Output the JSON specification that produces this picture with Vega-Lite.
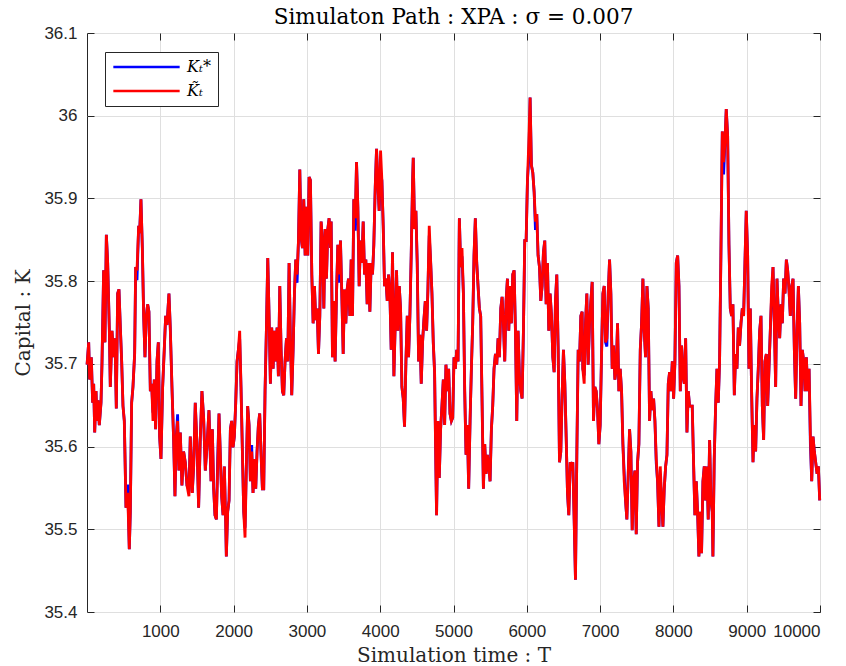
{
"$schema": "https://vega.github.io/schema/vega-lite/v6.json",
"width": 733, "height": 579,
"autosize": "none",
"padding": {"left": 87, "top": 33, "right": 26, "bottom": 54},
"background": "white",
"title": {"text": "Simulaton Path : XPA : σ = 0.007", "font": "DejaVu Serif", "fontSize": 21.5, "fontWeight": "normal", "color": "#000000", "offset": -4, "frame": "group", "anchor": "middle"},
"data": {"values": [
{"T":1,"Ks":35.699,"Kt":35.699},{"T":23,"Ks":35.726,"Kt":35.726},{"T":36,"Ks":35.681,"Kt":35.681},{"T":59,"Ks":35.708,"Kt":35.708},{"T":77,"Ks":35.653,"Kt":35.653},{"T":91,"Ks":35.676,"Kt":35.676},{"T":105,"Ks":35.617,"Kt":35.617},{"T":123,"Ks":35.667,"Kt":35.667},{"T":136,"Ks":35.631,"Kt":35.631},{"T":150,"Ks":35.656,"Kt":35.656},{"T":168,"Ks":35.626,"Kt":35.626},{"T":191,"Ks":35.653,"Kt":35.653},{"T":205,"Ks":35.703,"Kt":35.703},{"T":227,"Ks":35.813,"Kt":35.813},{"T":245,"Ks":35.726,"Kt":35.726},{"T":264,"Ks":35.856,"Kt":35.856},{"T":282,"Ks":35.822,"Kt":35.822},{"T":305,"Ks":35.74,"Kt":35.74},{"T":318,"Ks":35.672,"Kt":35.672},{"T":341,"Ks":35.74,"Kt":35.74},{"T":364,"Ks":35.708,"Kt":35.708},{"T":382,"Ks":35.731,"Kt":35.731},{"T":400,"Ks":35.646,"Kt":35.646},{"T":418,"Ks":35.785,"Kt":35.785},{"T":436,"Ks":35.79,"Kt":35.79},{"T":455,"Ks":35.744,"Kt":35.744},{"T":473,"Ks":35.703,"Kt":35.703},{"T":491,"Ks":35.649,"Kt":35.649},{"T":509,"Ks":35.631,"Kt":35.631},{"T":532,"Ks":35.526,"Kt":35.526},{"T":555,"Ks":35.554,"Kt":35.544},{"T":577,"Ks":35.476,"Kt":35.476},{"T":591,"Ks":35.521,"Kt":35.521},{"T":609,"Ks":35.653,"Kt":35.653},{"T":627,"Ks":35.672,"Kt":35.672},{"T":650,"Ks":35.712,"Kt":35.712},{"T":664,"Ks":35.817,"Kt":35.817},{"T":682,"Ks":35.801,"Kt":35.813},{"T":705,"Ks":35.867,"Kt":35.867},{"T":718,"Ks":35.858,"Kt":35.858},{"T":736,"Ks":35.899,"Kt":35.899},{"T":755,"Ks":35.84,"Kt":35.84},{"T":773,"Ks":35.758,"Kt":35.758},{"T":791,"Ks":35.708,"Kt":35.708},{"T":809,"Ks":35.758,"Kt":35.758},{"T":827,"Ks":35.772,"Kt":35.772},{"T":845,"Ks":35.763,"Kt":35.763},{"T":864,"Ks":35.667,"Kt":35.667},{"T":882,"Ks":35.676,"Kt":35.676},{"T":900,"Ks":35.641,"Kt":35.631},{"T":918,"Ks":35.681,"Kt":35.681},{"T":936,"Ks":35.621,"Kt":35.621},{"T":955,"Ks":35.703,"Kt":35.703},{"T":973,"Ks":35.726,"Kt":35.726},{"T":991,"Ks":35.612,"Kt":35.612},{"T":1009,"Ks":35.585,"Kt":35.585},{"T":1032,"Ks":35.672,"Kt":35.672},{"T":1054,"Ks":35.717,"Kt":35.717},{"T":1073,"Ks":35.758,"Kt":35.758},{"T":1091,"Ks":35.747,"Kt":35.747},{"T":1118,"Ks":35.785,"Kt":35.785},{"T":1136,"Ks":35.744,"Kt":35.744},{"T":1159,"Ks":35.672,"Kt":35.672},{"T":1182,"Ks":35.608,"Kt":35.608},{"T":1200,"Ks":35.54,"Kt":35.54},{"T":1218,"Ks":35.612,"Kt":35.612},{"T":1236,"Ks":35.639,"Kt":35.631},{"T":1254,"Ks":35.571,"Kt":35.571},{"T":1273,"Ks":35.617,"Kt":35.617},{"T":1295,"Ks":35.553,"Kt":35.553},{"T":1318,"Ks":35.594,"Kt":35.594},{"T":1341,"Ks":35.581,"Kt":35.581},{"T":1364,"Ks":35.553,"Kt":35.553},{"T":1391,"Ks":35.55,"Kt":35.54},{"T":1409,"Ks":35.612,"Kt":35.612},{"T":1436,"Ks":35.544,"Kt":35.544},{"T":1455,"Ks":35.576,"Kt":35.576},{"T":1477,"Ks":35.653,"Kt":35.653},{"T":1500,"Ks":35.603,"Kt":35.603},{"T":1523,"Ks":35.526,"Kt":35.526},{"T":1545,"Ks":35.608,"Kt":35.608},{"T":1568,"Ks":35.667,"Kt":35.667},{"T":1591,"Ks":35.635,"Kt":35.635},{"T":1614,"Ks":35.571,"Kt":35.571},{"T":1636,"Ks":35.599,"Kt":35.599},{"T":1664,"Ks":35.644,"Kt":35.644},
{"T":1692,"Ks":35.558,"Kt":35.558},{"T":1710,"Ks":35.621,"Kt":35.621},{"T":1728,"Ks":35.549,"Kt":35.549},{"T":1746,"Ks":35.517,"Kt":35.517},{"T":1765,"Ks":35.512,"Kt":35.512},{"T":1783,"Ks":35.586,"Kt":35.576},{"T":1801,"Ks":35.64,"Kt":35.64},{"T":1819,"Ks":35.59,"Kt":35.59},{"T":1837,"Ks":35.54,"Kt":35.54},{"T":1856,"Ks":35.517,"Kt":35.517},{"T":1874,"Ks":35.576,"Kt":35.576},{"T":1892,"Ks":35.508,"Kt":35.508},{"T":1901,"Ks":35.467,"Kt":35.467},{"T":1919,"Ks":35.521,"Kt":35.521},{"T":1938,"Ks":35.535,"Kt":35.535},{"T":1956,"Ks":35.621,"Kt":35.621},{"T":1974,"Ks":35.631,"Kt":35.631},{"T":1992,"Ks":35.599,"Kt":35.599},{"T":2010,"Ks":35.612,"Kt":35.612},{"T":2029,"Ks":35.653,"Kt":35.653},{"T":2047,"Ks":35.703,"Kt":35.703},{"T":2065,"Ks":35.717,"Kt":35.717},{"T":2083,"Ks":35.73,"Kt":35.74},{"T":2101,"Ks":35.672,"Kt":35.672},{"T":2120,"Ks":35.594,"Kt":35.594},{"T":2138,"Ks":35.521,"Kt":35.521},{"T":2156,"Ks":35.502,"Kt":35.49},{"T":2174,"Ks":35.576,"Kt":35.576},{"T":2192,"Ks":35.649,"Kt":35.649},{"T":2211,"Ks":35.626,"Kt":35.626},{"T":2229,"Ks":35.558,"Kt":35.558},{"T":2247,"Ks":35.602,"Kt":35.594},{"T":2265,"Ks":35.544,"Kt":35.544},{"T":2284,"Ks":35.585,"Kt":35.585},{"T":2302,"Ks":35.549,"Kt":35.549},{"T":2320,"Ks":35.594,"Kt":35.594},{"T":2338,"Ks":35.626,"Kt":35.626},{"T":2356,"Ks":35.64,"Kt":35.64},{"T":2375,"Ks":35.59,"Kt":35.59},{"T":2393,"Ks":35.549,"Kt":35.549},{"T":2411,"Ks":35.549,"Kt":35.549},{"T":2429,"Ks":35.667,"Kt":35.667},{"T":2447,"Ks":35.74,"Kt":35.74},{"T":2466,"Ks":35.828,"Kt":35.828},{"T":2484,"Ks":35.758,"Kt":35.758},{"T":2502,"Ks":35.676,"Kt":35.676},{"T":2520,"Ks":35.744,"Kt":35.744},{"T":2539,"Ks":35.694,"Kt":35.694},{"T":2557,"Ks":35.74,"Kt":35.74},{"T":2575,"Ks":35.703,"Kt":35.703},{"T":2593,"Ks":35.744,"Kt":35.744},{"T":2611,"Ks":35.685,"Kt":35.685},{"T":2630,"Ks":35.794,"Kt":35.794},{"T":2648,"Ks":35.717,"Kt":35.717},{"T":2666,"Ks":35.667,"Kt":35.667},{"T":2684,"Ks":35.662,"Kt":35.662},{"T":2702,"Ks":35.703,"Kt":35.703},{"T":2721,"Ks":35.731,"Kt":35.731},{"T":2739,"Ks":35.703,"Kt":35.703},{"T":2757,"Ks":35.822,"Kt":35.822},{"T":2775,"Ks":35.731,"Kt":35.731},{"T":2793,"Ks":35.662,"Kt":35.662},{"T":2812,"Ks":35.717,"Kt":35.717},{"T":2830,"Ks":35.785,"Kt":35.785},{"T":2848,"Ks":35.826,"Kt":35.826},{"T":2866,"Ks":35.798,"Kt":35.808},{"T":2885,"Ks":35.849,"Kt":35.849},{"T":2903,"Ks":35.935,"Kt":35.935},{"T":2921,"Ks":35.853,"Kt":35.853},{"T":2939,"Ks":35.84,"Kt":35.84},{"T":2957,"Ks":35.899,"Kt":35.899},{"T":2976,"Ks":35.831,"Kt":35.831},{"T":2994,"Ks":35.89,"Kt":35.89},{"T":3012,"Ks":35.831,"Kt":35.831},{"T":3030,"Ks":35.926,"Kt":35.926},{"T":3048,"Ks":35.922,"Kt":35.922},{"T":3067,"Ks":35.808,"Kt":35.808},{"T":3085,"Ks":35.749,"Kt":35.749},{"T":3103,"Ks":35.794,"Kt":35.794},{"T":3121,"Ks":35.753,"Kt":35.753},{"T":3140,"Ks":35.767,"Kt":35.767},{"T":3158,"Ks":35.712,"Kt":35.712},{"T":3176,"Ks":35.758,"Kt":35.758},{"T":3194,"Ks":35.872,"Kt":35.872},{"T":3212,"Ks":35.849,"Kt":35.849},{"T":3231,"Ks":35.767,"Kt":35.767},{"T":3249,"Ks":35.863,"Kt":35.863},{"T":3267,"Ks":35.803,"Kt":35.803},{"T":3285,"Ks":35.863,"Kt":35.863},{"T":3303,"Ks":35.876,"Kt":35.876},{"T":3322,"Ks":35.84,"Kt":35.84},
{"T":3331,"Ks":35.872,"Kt":35.872},{"T":3349,"Ks":35.708,"Kt":35.708},{"T":3367,"Ks":35.776,"Kt":35.776},{"T":3385,"Ks":35.703,"Kt":35.703},{"T":3404,"Ks":35.785,"Kt":35.785},{"T":3422,"Ks":35.844,"Kt":35.844},{"T":3440,"Ks":35.798,"Kt":35.808},{"T":3458,"Ks":35.849,"Kt":35.849},{"T":3476,"Ks":35.785,"Kt":35.785},{"T":3495,"Ks":35.712,"Kt":35.712},{"T":3513,"Ks":35.79,"Kt":35.79},{"T":3531,"Ks":35.749,"Kt":35.749},{"T":3549,"Ks":35.79,"Kt":35.79},{"T":3567,"Ks":35.803,"Kt":35.803},{"T":3586,"Ks":35.758,"Kt":35.758},{"T":3604,"Ks":35.826,"Kt":35.826},{"T":3622,"Ks":35.758,"Kt":35.758},{"T":3640,"Ks":35.899,"Kt":35.899},{"T":3659,"Ks":35.861,"Kt":35.876},{"T":3677,"Ks":35.944,"Kt":35.944},{"T":3695,"Ks":35.89,"Kt":35.89},{"T":3713,"Ks":35.794,"Kt":35.794},{"T":3731,"Ks":35.849,"Kt":35.849},{"T":3750,"Ks":35.822,"Kt":35.822},{"T":3768,"Ks":35.872,"Kt":35.872},{"T":3786,"Ks":35.808,"Kt":35.808},{"T":3804,"Ks":35.826,"Kt":35.826},{"T":3822,"Ks":35.772,"Kt":35.772},{"T":3841,"Ks":35.822,"Kt":35.822},{"T":3859,"Ks":35.763,"Kt":35.763},{"T":3877,"Ks":35.822,"Kt":35.822},{"T":3895,"Ks":35.808,"Kt":35.808},{"T":3913,"Ks":35.844,"Kt":35.844},{"T":3932,"Ks":35.913,"Kt":35.913},{"T":3950,"Ks":35.96,"Kt":35.96},{"T":3968,"Ks":35.917,"Kt":35.917},{"T":3986,"Ks":35.885,"Kt":35.885},{"T":4005,"Ks":35.928,"Kt":35.958},{"T":4023,"Ks":35.922,"Kt":35.922},{"T":4041,"Ks":35.867,"Kt":35.867},{"T":4059,"Ks":35.794,"Kt":35.794},{"T":4077,"Ks":35.803,"Kt":35.803},{"T":4096,"Ks":35.776,"Kt":35.776},{"T":4114,"Ks":35.808,"Kt":35.808},{"T":4132,"Ks":35.785,"Kt":35.785},{"T":4150,"Ks":35.717,"Kt":35.717},{"T":4168,"Ks":35.835,"Kt":35.835},{"T":4187,"Ks":35.685,"Kt":35.685},{"T":4205,"Ks":35.749,"Kt":35.749},{"T":4223,"Ks":35.813,"Kt":35.813},{"T":4241,"Ks":35.74,"Kt":35.74},{"T":4260,"Ks":35.794,"Kt":35.794},{"T":4278,"Ks":35.767,"Kt":35.767},{"T":4296,"Ks":35.672,"Kt":35.672},{"T":4314,"Ks":35.658,"Kt":35.658},{"T":4332,"Ks":35.624,"Kt":35.624},{"T":4351,"Ks":35.703,"Kt":35.703},{"T":4369,"Ks":35.758,"Kt":35.758},{"T":4387,"Ks":35.708,"Kt":35.708},{"T":4405,"Ks":35.758,"Kt":35.758},{"T":4423,"Ks":35.831,"Kt":35.831},{"T":4442,"Ks":35.922,"Kt":35.922},{"T":4451,"Ks":35.949,"Kt":35.949},{"T":4469,"Ks":35.863,"Kt":35.863},{"T":4487,"Ks":35.885,"Kt":35.885},{"T":4505,"Ks":35.822,"Kt":35.822},{"T":4524,"Ks":35.703,"Kt":35.703},{"T":4542,"Ks":35.735,"Kt":35.735},{"T":4560,"Ks":35.676,"Kt":35.676},{"T":4578,"Ks":35.726,"Kt":35.726},{"T":4596,"Ks":35.753,"Kt":35.753},{"T":4615,"Ks":35.776,"Kt":35.776},{"T":4633,"Ks":35.74,"Kt":35.74},{"T":4651,"Ks":35.79,"Kt":35.79},{"T":4669,"Ks":35.855,"Kt":35.867},{"T":4687,"Ks":35.826,"Kt":35.826},{"T":4706,"Ks":35.785,"Kt":35.785},{"T":4724,"Ks":35.726,"Kt":35.726},{"T":4742,"Ks":35.69,"Kt":35.69},{"T":4760,"Ks":35.571,"Kt":35.571},{"T":4769,"Ks":35.517,"Kt":35.517},{"T":4788,"Ks":35.631,"Kt":35.631},{"T":4806,"Ks":35.562,"Kt":35.562},{"T":4824,"Ks":35.621,"Kt":35.621},{"T":4842,"Ks":35.649,"Kt":35.649},{"T":4861,"Ks":35.681,"Kt":35.681},{"T":4879,"Ks":35.626,"Kt":35.626},{"T":4897,"Ks":35.699,"Kt":35.699},{"T":4915,"Ks":35.667,"Kt":35.667},{"T":4934,"Ks":35.694,"Kt":35.694},{"T":4952,"Ks":35.64,"Kt":35.64},
{"T":4971,"Ks":35.631,"Kt":35.631},{"T":4989,"Ks":35.635,"Kt":35.635},{"T":5007,"Ks":35.708,"Kt":35.708},{"T":5025,"Ks":35.694,"Kt":35.694},{"T":5044,"Ks":35.717,"Kt":35.717},{"T":5062,"Ks":35.703,"Kt":35.703},{"T":5080,"Ks":35.876,"Kt":35.876},{"T":5098,"Ks":35.817,"Kt":35.817},{"T":5116,"Ks":35.83,"Kt":35.84},{"T":5135,"Ks":35.785,"Kt":35.785},{"T":5153,"Ks":35.667,"Kt":35.667},{"T":5171,"Ks":35.59,"Kt":35.59},{"T":5189,"Ks":35.626,"Kt":35.626},{"T":5207,"Ks":35.549,"Kt":35.549},{"T":5226,"Ks":35.631,"Kt":35.631},{"T":5244,"Ks":35.694,"Kt":35.694},{"T":5262,"Ks":35.749,"Kt":35.749},{"T":5280,"Ks":35.831,"Kt":35.831},{"T":5298,"Ks":35.876,"Kt":35.876},{"T":5317,"Ks":35.822,"Kt":35.822},{"T":5335,"Ks":35.794,"Kt":35.794},{"T":5353,"Ks":35.767,"Kt":35.767},{"T":5371,"Ks":35.758,"Kt":35.758},{"T":5390,"Ks":35.653,"Kt":35.653},{"T":5408,"Ks":35.549,"Kt":35.549},{"T":5426,"Ks":35.603,"Kt":35.603},{"T":5444,"Ks":35.567,"Kt":35.567},{"T":5462,"Ks":35.59,"Kt":35.59},{"T":5481,"Ks":35.576,"Kt":35.576},{"T":5499,"Ks":35.558,"Kt":35.558},{"T":5517,"Ks":35.621,"Kt":35.621},{"T":5535,"Ks":35.649,"Kt":35.649},{"T":5553,"Ks":35.694,"Kt":35.694},{"T":5572,"Ks":35.712,"Kt":35.712},{"T":5590,"Ks":35.699,"Kt":35.699},{"T":5608,"Ks":35.731,"Kt":35.731},{"T":5626,"Ks":35.708,"Kt":35.708},{"T":5645,"Ks":35.767,"Kt":35.767},{"T":5663,"Ks":35.781,"Kt":35.781},{"T":5681,"Ks":35.749,"Kt":35.749},{"T":5699,"Ks":35.703,"Kt":35.703},{"T":5717,"Ks":35.776,"Kt":35.776},{"T":5736,"Ks":35.803,"Kt":35.803},{"T":5754,"Ks":35.74,"Kt":35.74},{"T":5772,"Ks":35.794,"Kt":35.794},{"T":5790,"Ks":35.749,"Kt":35.749},{"T":5808,"Ks":35.808,"Kt":35.808},{"T":5827,"Ks":35.813,"Kt":35.813},{"T":5845,"Ks":35.74,"Kt":35.74},{"T":5863,"Ks":35.631,"Kt":35.631},{"T":5881,"Ks":35.74,"Kt":35.74},{"T":5900,"Ks":35.685,"Kt":35.685},{"T":5918,"Ks":35.667,"Kt":35.667},{"T":5936,"Ks":35.658,"Kt":35.658},{"T":5954,"Ks":35.74,"Kt":35.74},{"T":5972,"Ks":35.849,"Kt":35.849},{"T":5991,"Ks":35.849,"Kt":35.849},{"T":6009,"Ks":35.922,"Kt":35.922},{"T":6027,"Ks":35.947,"Kt":35.967},{"T":6045,"Ks":36.022,"Kt":36.022},{"T":6063,"Ks":35.94,"Kt":35.94},{"T":6082,"Ks":35.931,"Kt":35.931},{"T":6100,"Ks":35.908,"Kt":35.908},{"T":6118,"Ks":35.862,"Kt":35.872},{"T":6136,"Ks":35.881,"Kt":35.881},{"T":6154,"Ks":35.831,"Kt":35.831},{"T":6173,"Ks":35.817,"Kt":35.817},{"T":6191,"Ks":35.776,"Kt":35.776},{"T":6209,"Ks":35.794,"Kt":35.794},{"T":6227,"Ks":35.835,"Kt":35.835},{"T":6245,"Ks":35.849,"Kt":35.849},{"T":6264,"Ks":35.772,"Kt":35.772},{"T":6282,"Ks":35.822,"Kt":35.822},{"T":6300,"Ks":35.74,"Kt":35.74},{"T":6318,"Ks":35.785,"Kt":35.785},{"T":6337,"Ks":35.758,"Kt":35.758},{"T":6355,"Ks":35.708,"Kt":35.708},{"T":6373,"Ks":35.69,"Kt":35.69},{"T":6391,"Ks":35.776,"Kt":35.776},{"T":6409,"Ks":35.808,"Kt":35.808},{"T":6428,"Ks":35.717,"Kt":35.717},{"T":6446,"Ks":35.581,"Kt":35.581},{"T":6464,"Ks":35.594,"Kt":35.594},{"T":6482,"Ks":35.662,"Kt":35.662},{"T":6500,"Ks":35.717,"Kt":35.717},{"T":6519,"Ks":35.676,"Kt":35.676},{"T":6537,"Ks":35.612,"Kt":35.612},{"T":6555,"Ks":35.544,"Kt":35.544},{"T":6573,"Ks":35.517,"Kt":35.517},{"T":6592,"Ks":35.581,"Kt":35.581},
{"T":6610,"Ks":35.576,"Kt":35.576},{"T":6628,"Ks":35.581,"Kt":35.581},{"T":6646,"Ks":35.512,"Kt":35.512},{"T":6664,"Ks":35.439,"Kt":35.439},{"T":6683,"Ks":35.594,"Kt":35.594},{"T":6701,"Ks":35.717,"Kt":35.717},{"T":6719,"Ks":35.703,"Kt":35.703},{"T":6737,"Ks":35.758,"Kt":35.758},{"T":6755,"Ks":35.763,"Kt":35.763},{"T":6764,"Ks":35.694,"Kt":35.694},{"T":6783,"Ks":35.686,"Kt":35.676},{"T":6801,"Ks":35.749,"Kt":35.749},{"T":6819,"Ks":35.785,"Kt":35.785},{"T":6837,"Ks":35.699,"Kt":35.699},{"T":6856,"Ks":35.749,"Kt":35.749},{"T":6874,"Ks":35.776,"Kt":35.776},{"T":6892,"Ks":35.799,"Kt":35.799},{"T":6910,"Ks":35.631,"Kt":35.631},{"T":6928,"Ks":35.672,"Kt":35.672},{"T":6947,"Ks":35.667,"Kt":35.667},{"T":6965,"Ks":35.644,"Kt":35.644},{"T":6983,"Ks":35.603,"Kt":35.603},{"T":7001,"Ks":35.626,"Kt":35.626},{"T":7019,"Ks":35.708,"Kt":35.708},{"T":7038,"Ks":35.785,"Kt":35.785},{"T":7056,"Ks":35.794,"Kt":35.794},{"T":7074,"Ks":35.726,"Kt":35.726},{"T":7092,"Ks":35.721,"Kt":35.731},{"T":7111,"Ks":35.785,"Kt":35.785},{"T":7129,"Ks":35.826,"Kt":35.826},{"T":7147,"Ks":35.785,"Kt":35.785},{"T":7165,"Ks":35.694,"Kt":35.694},{"T":7183,"Ks":35.722,"Kt":35.722},{"T":7202,"Ks":35.681,"Kt":35.681},{"T":7220,"Ks":35.694,"Kt":35.694},{"T":7238,"Ks":35.749,"Kt":35.749},{"T":7256,"Ks":35.667,"Kt":35.667},{"T":7274,"Ks":35.694,"Kt":35.694},{"T":7293,"Ks":35.667,"Kt":35.667},{"T":7311,"Ks":35.603,"Kt":35.603},{"T":7329,"Ks":35.568,"Kt":35.558},{"T":7347,"Ks":35.535,"Kt":35.535},{"T":7365,"Ks":35.512,"Kt":35.512},{"T":7384,"Ks":35.567,"Kt":35.567},{"T":7402,"Ks":35.621,"Kt":35.621},{"T":7420,"Ks":35.594,"Kt":35.594},{"T":7438,"Ks":35.499,"Kt":35.499},{"T":7457,"Ks":35.558,"Kt":35.558},{"T":7475,"Ks":35.571,"Kt":35.571},{"T":7493,"Ks":35.494,"Kt":35.494},{"T":7511,"Ks":35.581,"Kt":35.581},{"T":7529,"Ks":35.603,"Kt":35.603},{"T":7548,"Ks":35.717,"Kt":35.717},{"T":7566,"Ks":35.749,"Kt":35.749},{"T":7584,"Ks":35.803,"Kt":35.803},{"T":7602,"Ks":35.74,"Kt":35.74},{"T":7620,"Ks":35.708,"Kt":35.708},{"T":7639,"Ks":35.794,"Kt":35.794},{"T":7657,"Ks":35.767,"Kt":35.767},{"T":7675,"Ks":35.631,"Kt":35.631},{"T":7693,"Ks":35.667,"Kt":35.667},{"T":7711,"Ks":35.644,"Kt":35.644},{"T":7730,"Ks":35.658,"Kt":35.658},{"T":7748,"Ks":35.631,"Kt":35.631},{"T":7766,"Ks":35.58,"Kt":35.585},{"T":7784,"Ks":35.558,"Kt":35.558},{"T":7803,"Ks":35.503,"Kt":35.503},{"T":7821,"Ks":35.566,"Kt":35.576},{"T":7839,"Ks":35.535,"Kt":35.535},{"T":7857,"Ks":35.503,"Kt":35.503},{"T":7875,"Ks":35.549,"Kt":35.549},{"T":7894,"Ks":35.576,"Kt":35.576},{"T":7912,"Ks":35.59,"Kt":35.59},{"T":7930,"Ks":35.676,"Kt":35.676},{"T":7948,"Ks":35.69,"Kt":35.69},{"T":7966,"Ks":35.667,"Kt":35.667},{"T":7985,"Ks":35.703,"Kt":35.703},{"T":8003,"Ks":35.658,"Kt":35.658},{"T":8021,"Ks":35.703,"Kt":35.703},{"T":8039,"Ks":35.822,"Kt":35.822},{"T":8058,"Ks":35.831,"Kt":35.831},{"T":8076,"Ks":35.794,"Kt":35.794},{"T":8094,"Ks":35.667,"Kt":35.667},{"T":8112,"Ks":35.722,"Kt":35.722},{"T":8130,"Ks":35.685,"Kt":35.685},{"T":8149,"Ks":35.676,"Kt":35.676},{"T":8167,"Ks":35.731,"Kt":35.731},{"T":8185,"Ks":35.617,"Kt":35.617},{"T":8203,"Ks":35.667,"Kt":35.667},{"T":8221,"Ks":35.649,"Kt":35.649},
{"T":8257,"Ks":35.649,"Kt":35.649},{"T":8275,"Ks":35.581,"Kt":35.581},{"T":8293,"Ks":35.517,"Kt":35.517},{"T":8312,"Ks":35.558,"Kt":35.558},{"T":8330,"Ks":35.521,"Kt":35.521},{"T":8348,"Ks":35.467,"Kt":35.467},{"T":8366,"Ks":35.521,"Kt":35.521},{"T":8384,"Ks":35.471,"Kt":35.471},{"T":8403,"Ks":35.558,"Kt":35.558},{"T":8421,"Ks":35.576,"Kt":35.576},{"T":8439,"Ks":35.535,"Kt":35.535},{"T":8457,"Ks":35.576,"Kt":35.576},{"T":8475,"Ks":35.512,"Kt":35.512},{"T":8494,"Ks":35.608,"Kt":35.608},{"T":8512,"Ks":35.535,"Kt":35.535},{"T":8530,"Ks":35.521,"Kt":35.521},{"T":8539,"Ks":35.467,"Kt":35.467},{"T":8557,"Ks":35.585,"Kt":35.585},{"T":8576,"Ks":35.649,"Kt":35.649},{"T":8594,"Ks":35.694,"Kt":35.694},{"T":8612,"Ks":35.653,"Kt":35.653},{"T":8630,"Ks":35.703,"Kt":35.703},{"T":8648,"Ks":35.831,"Kt":35.831},{"T":8667,"Ks":35.981,"Kt":35.981},{"T":8685,"Ks":35.929,"Kt":35.944},{"T":8703,"Ks":35.967,"Kt":35.967},{"T":8721,"Ks":36.008,"Kt":36.008},{"T":8740,"Ks":35.976,"Kt":35.976},{"T":8758,"Ks":35.844,"Kt":35.844},{"T":8776,"Ks":35.767,"Kt":35.767},{"T":8794,"Ks":35.758,"Kt":35.758},{"T":8812,"Ks":35.772,"Kt":35.772},{"T":8831,"Ks":35.662,"Kt":35.662},{"T":8849,"Ks":35.712,"Kt":35.712},{"T":8867,"Ks":35.694,"Kt":35.694},{"T":8885,"Ks":35.744,"Kt":35.744},{"T":8903,"Ks":35.722,"Kt":35.722},{"T":8922,"Ks":35.749,"Kt":35.749},{"T":8940,"Ks":35.767,"Kt":35.767},{"T":8958,"Ks":35.758,"Kt":35.758},{"T":8976,"Ks":35.822,"Kt":35.822},{"T":8994,"Ks":35.885,"Kt":35.885},{"T":9013,"Ks":35.831,"Kt":35.831},{"T":9031,"Ks":35.694,"Kt":35.694},{"T":9049,"Ks":35.767,"Kt":35.767},{"T":9067,"Ks":35.667,"Kt":35.667},{"T":9086,"Ks":35.581,"Kt":35.581},{"T":9104,"Ks":35.626,"Kt":35.626},{"T":9122,"Ks":35.594,"Kt":35.594},{"T":9140,"Ks":35.658,"Kt":35.658},{"T":9158,"Ks":35.694,"Kt":35.694},{"T":9177,"Ks":35.74,"Kt":35.74},{"T":9195,"Ks":35.758,"Kt":35.758},{"T":9213,"Ks":35.649,"Kt":35.649},{"T":9231,"Ks":35.608,"Kt":35.608},{"T":9249,"Ks":35.703,"Kt":35.703},{"T":9268,"Ks":35.712,"Kt":35.712},{"T":9286,"Ks":35.649,"Kt":35.649},{"T":9304,"Ks":35.694,"Kt":35.694},{"T":9322,"Ks":35.74,"Kt":35.74},{"T":9341,"Ks":35.784,"Kt":35.794},{"T":9359,"Ks":35.817,"Kt":35.817},{"T":9377,"Ks":35.749,"Kt":35.749},{"T":9395,"Ks":35.672,"Kt":35.672},{"T":9413,"Ks":35.803,"Kt":35.803},{"T":9432,"Ks":35.758,"Kt":35.758},{"T":9450,"Ks":35.731,"Kt":35.731},{"T":9468,"Ks":35.772,"Kt":35.772},{"T":9486,"Ks":35.749,"Kt":35.749},{"T":9504,"Ks":35.803,"Kt":35.803},{"T":9523,"Ks":35.785,"Kt":35.785},{"T":9541,"Ks":35.826,"Kt":35.826},{"T":9559,"Ks":35.813,"Kt":35.813},{"T":9577,"Ks":35.79,"Kt":35.79},{"T":9595,"Ks":35.758,"Kt":35.758},{"T":9614,"Ks":35.794,"Kt":35.794},{"T":9632,"Ks":35.803,"Kt":35.803},{"T":9650,"Ks":35.717,"Kt":35.717},{"T":9668,"Ks":35.658,"Kt":35.658},{"T":9687,"Ks":35.74,"Kt":35.74},{"T":9705,"Ks":35.794,"Kt":35.794},{"T":9723,"Ks":35.749,"Kt":35.749},{"T":9741,"Ks":35.649,"Kt":35.649},{"T":9759,"Ks":35.717,"Kt":35.717},{"T":9778,"Ks":35.703,"Kt":35.703},{"T":9796,"Ks":35.667,"Kt":35.667},{"T":9814,"Ks":35.708,"Kt":35.708},{"T":9832,"Ks":35.667,"Kt":35.667},{"T":9851,"Ks":35.694,"Kt":35.694},{"T":9869,"Ks":35.602,"Kt":35.612},{"T":9887,"Ks":35.558,"Kt":35.558},{"T":9905,"Ks":35.612,"Kt":35.612},{"T":9923,"Ks":35.594,"Kt":35.594},{"T":9941,"Ks":35.581,"Kt":35.581},{"T":9960,"Ks":35.567,"Kt":35.567},{"T":9978,"Ks":35.576,"Kt":35.576},{"T":9996,"Ks":35.535,"Kt":35.535}
]},
"transform": [{"fold": ["Ks", "Kt"], "as": ["series", "K"]}],
"layer": [
{"mark": {"type": "line", "strokeWidth": 2.8},
 "encoding": {
  "x": {"field": "T", "type": "quantitative", "scale": {"domain": [0, 10000], "nice": false, "zero": false},
        "axis": {"orient": "bottom", "values": [1000,2000,3000,4000,5000,6000,7000,8000,9000,10000], "format": "d", "title": "Simulation time : T", "grid": true}},
  "y": {"field": "K", "type": "quantitative", "scale": {"domain": [35.4, 36.1], "nice": false, "zero": false},
        "axis": {"orient": "left", "values": [35.4,35.5,35.6,35.7,35.8,35.9,36.0,36.1], "format": ".4~g", "title": "Capital : K", "grid": true}},
  "color": {"field": "series", "type": "nominal", "scale": {"domain": ["Ks", "Kt"], "range": ["#0000ff", "#ff0000"]},
        "legend": {"orient": "none", "legendX": 18, "legendY": 19, "title": null, "labelExpr": "datum.value == 'Ks' ? 'Kₜ*' : 'K̃ₜ'"}}
 }},
{"mark": {"type": "line", "strokeOpacity": 0},
 "encoding": {
  "x": {"field": "T", "type": "quantitative", "scale": {"domain": [0, 10000], "nice": false, "zero": false},
        "axis": {"orient": "top", "values": [1000,2000,3000,4000,5000,6000,7000,8000,9000,10000], "labels": false, "grid": false, "title": null}},
  "y": {"field": "K", "type": "quantitative", "scale": {"domain": [35.4, 36.1], "nice": false, "zero": false},
        "axis": {"orient": "right", "values": [35.4,35.5,35.6,35.7,35.8,35.9,36.0,36.1], "labels": false, "grid": false, "title": null}}
 }}
],
"resolve": {"axis": {"x": "independent", "y": "independent"}},
"config": {
 "view": {"stroke": "#262626", "strokeWidth": 1},
 "axis": {"domain": false, "gridColor": "#dfdfdf", "gridWidth": 1, "gridOpacity": 1, "tickColor": "#262626", "tickSize": -7, "tickWidth": 1,
          "labelFont": "Liberation Sans", "labelFontSize": 17, "labelColor": "#262626",
          "titleFont": "DejaVu Serif", "titleFontSize": 20, "titleFontWeight": "normal", "titleColor": "#262626"},
 "axisX": {"labelPadding": 18, "titlePadding": 6},
 "axisY": {"labelPadding": 17, "titlePadding": 10},
 "legend": {"fillColor": "white", "strokeColor": "#262626", "strokeWidth": 1, "padding": 7, "cornerRadius": 0,
            "symbolType": "stroke", "symbolSize": 4400, "symbolStrokeWidth": 2.6, "clipHeight": 16, "rowPadding": 8,
            "labelFont": "DejaVu Serif", "labelFontStyle": "italic", "labelFontSize": 16, "labelColor": "#000000", "labelOffset": 6}
}
}
